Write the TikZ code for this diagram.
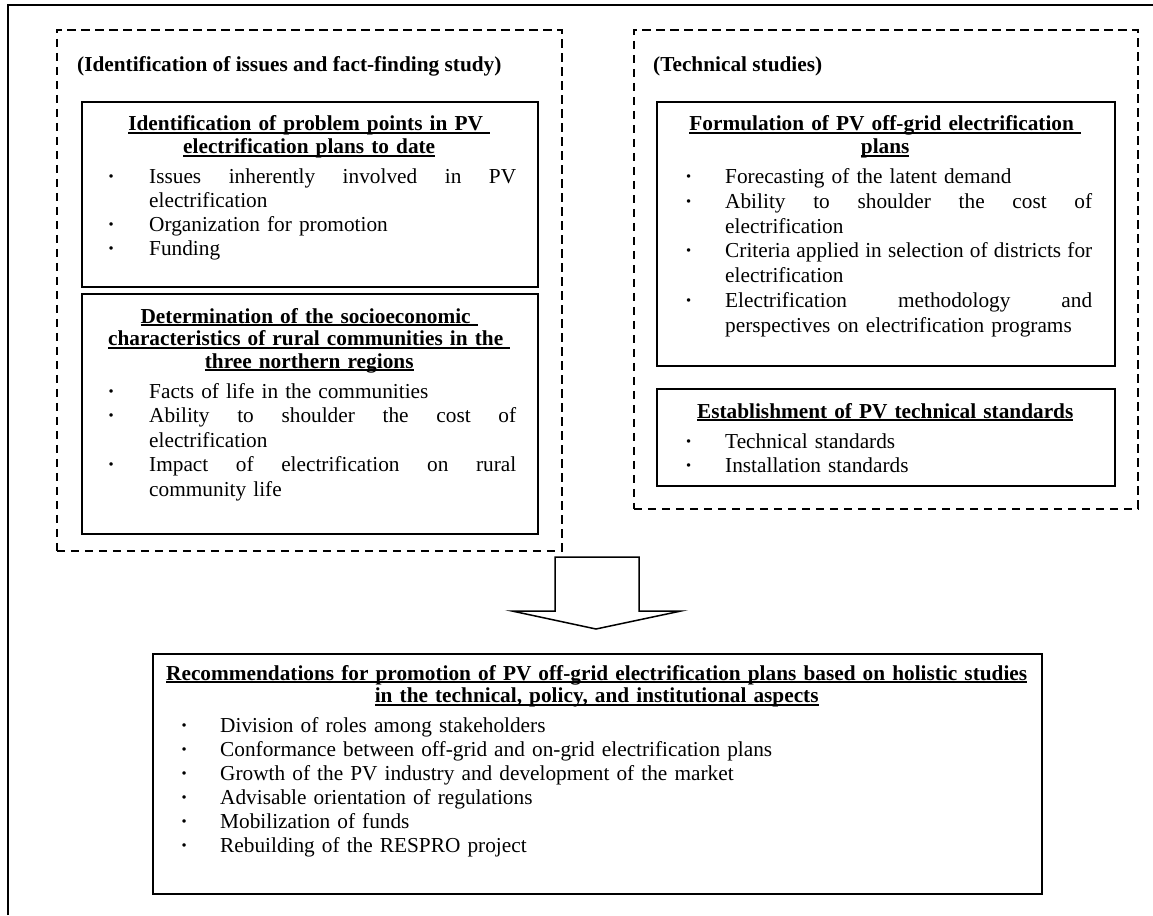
\documentclass[tikz,border=0pt]{standalone}
\usepackage{fontspec}
\setmainfont{Liberation Serif}

% offsets inside a panel: bullet dot and item text
\newlength\dotx
\newlength\txtx
% underline at a fixed depth below the baseline
\newcommand\ulin[1]{\setbox0=\hbox{#1}\rlap{\rule[-3.3pt]{\wd0}{1.9pt}}\box0}
% centred, bold, underlined heading line
\newcommand\titleline[1]{\hbox to\linewidth{\hss\bfseries\ulin{#1}\hss}}
% switch from heading lines to item lines (argument: item line pitch)
\newcommand\bodystart[1]{\vskip\dimexpr30pt-#1\relax\baselineskip=#1\relax}
% bullet glyph
\newcommand\bdot{\rlap{\bfseries ·}}
% bullet item, natural spacing
\newcommand\bitem[1]{\hbox to\linewidth{\kern\dotx\bdot\kern\dimexpr\txtx-\dotx\relax #1\hss}}
% bullet item, justified to the full line
\newcommand\bitemj[1]{\hbox to\linewidth{\kern\dotx\bdot\kern\dimexpr\txtx-\dotx\relax
  \hbox to 367pt{\spaceskip=0.25em plus 1fil\relax #1}\hss}}
% continuation line of an item
\newcommand\bcont[1]{\hbox to\linewidth{\kern\txtx #1\hss}}

\begin{document}
\begin{tikzpicture}[x=1pt,y=-1pt,
  frame/.style={line width=2pt},
  group/.style={draw, line width=1.8pt, dash pattern=on 8.5pt off 5.5pt, inner sep=0pt, anchor=north west},
  panel/.style={draw, line width=2pt, inner sep=0pt, anchor=north west},
  txt/.style={inner sep=0pt, anchor=base west, font=\fontsize{21.3}{22.5}\selectfont},
  captext/.style={inner sep=0pt, anchor=base west, font=\fontsize{21.3}{22.5}\selectfont\bfseries},
  blockarrow/.style={draw, line width=1.5pt, line join=miter, fill=white}]

\useasboundingbox (0,0) rectangle (1153,915);

% page frame
\draw[frame] (8,915) -- (8,5) -- (1153,5);

% the two study groups
\node[group, minimum width=505pt, minimum height=521pt] (groupL) at (56,29) {};
\node[group, minimum width=504pt, minimum height=479pt] (groupR) at (633,29) {};
\node[captext] (capL) at (77,72) {(Identification of issues and fact-finding study)};
\node[captext] (capR) at (653,72) {(Technical studies)};

% panels
\node[panel, minimum width=456pt, minimum height=185pt] (boxA) at (81,101) {};
\node[panel, minimum width=456pt, minimum height=240pt] (boxB) at (81,293) {};
\node[panel, minimum width=458pt, minimum height=264pt] (boxC) at (656,101) {};
\node[panel, minimum width=458pt, minimum height=97pt] (boxD) at (656,388) {};
\node[panel, minimum width=889pt, minimum height=240pt] (boxR) at (152,653) {};

% panel texts
\node[txt, text width=456pt] (txtA) at (81,131) {%
  \setlength\dotx{26.5pt}\setlength\txtx{68pt}%
  \titleline{Identification of problem points in PV\ }
  \titleline{electrification plans to date}
  \bodystart{24pt}
  \bitemj{Issues inherently involved in PV}
  \bcont{electrification}
  \bitem{Organization for promotion}
  \bitem{Funding}};

\node[txt, text width=456pt] (txtB) at (81,323) {%
  \setlength\dotx{26.5pt}\setlength\txtx{68pt}%
  \titleline{Determination of the socioeconomic\ }
  \titleline{characteristics of rural communities in the\ }
  \titleline{three northern regions}
  \bodystart{24.6pt}
  \bitem{Facts of life in the communities}
  \bitemj{Ability to shoulder the cost of}
  \bcont{electrification}
  \bitemj{Impact of electrification on rural}
  \bcont{community life}};

\node[txt, text width=458pt] (txtC) at (656,131) {%
  \setlength\dotx{29pt}\setlength\txtx{69pt}%
  \titleline{Formulation of PV off-grid electrification\ }
  \titleline{plans}
  \bodystart{24.8pt}
  \bitem{Forecasting of the latent demand}
  \bitemj{Ability to shoulder the cost of}
  \bcont{electrification}
  \bitemj{Criteria applied in selection of districts for}
  \bcont{electrification}
  \bitemj{Electrification methodology and}
  \bcont{perspectives on electrification programs}};

\node[txt, text width=458pt] (txtD) at (656,418) {%
  \setlength\dotx{29pt}\setlength\txtx{69pt}%
  \titleline{Establishment of PV technical standards}
  \bodystart{24pt}
  \bitem{Technical standards}
  \bitem{Installation standards}};

\node[txt, text width=889pt] (txtR) at (152,680) {%
  \setlength\dotx{28.5pt}\setlength\txtx{68pt}%
  \titleline{Recommendations for promotion of PV off-grid electrification plans based on holistic studies}
  \titleline{in the technical, policy, and institutional aspects}
  \bodystart{24pt}
  \bitem{Division of roles among stakeholders}
  \bitem{Conformance between off-grid and on-grid electrification plans}
  \bitem{Growth of the PV industry and development of the market}
  \bitem{Advisable orientation of regulations}
  \bitem{Mobilization of funds}
  \bitem{Rebuilding of the RESPRO project}};

% block arrow from the studies down to the recommendations
\coordinate (arrTop) at (597,557);
\draw[blockarrow] (arrTop) ++(-42,0) -- ++(84,0) -- ++(0,54) -- ++(42,0)
  -- ++(-85,18) -- ++(-84,-18) -- ++(43,0) -- cycle;

\end{tikzpicture}
\end{document}
